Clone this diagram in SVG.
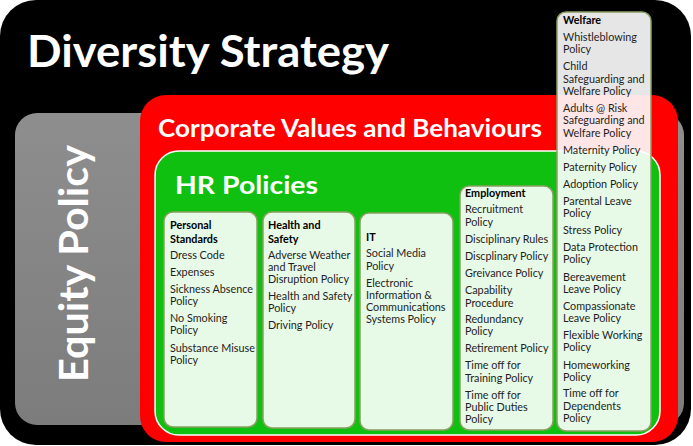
<svg xmlns="http://www.w3.org/2000/svg" width="693" height="446" viewBox="0 0 693 446">
<defs>
<style>
.big{font-family:Lato,"Open Sans","Liberation Sans",sans-serif;font-weight:bold;fill:#ffffff}
.t{font-family:Lato,"Open Sans","Liberation Sans",sans-serif;font-size:10.8px;fill:#1e1e1e}
.h{font-weight:bold;fill:#000}
.box{fill:#ffffff;fill-opacity:0.9;stroke:#8a9f62;stroke-width:1.5}
</style>
<linearGradient id="gGray" x1="0" y1="0" x2="0" y2="1">
<stop offset="0" stop-color="#8e8e8e"/><stop offset="1" stop-color="#7c7c7c"/>
</linearGradient>
</defs>
<rect width="693" height="446" fill="#ffffff"/>
<g id="diversity-strategy">
<rect x="0" y="0" width="691" height="445" rx="36" fill="#000"/>
<text class="big" x="27" y="67" font-size="44" textLength="362" lengthAdjust="spacingAndGlyphs">Diversity Strategy</text>
</g>
<g id="equity-policy">
<rect x="15" y="113" width="669" height="312" rx="22" fill="url(#gGray)"/>
<text class="big" transform="translate(88,382) rotate(-90)" font-size="40" textLength="237" lengthAdjust="spacingAndGlyphs">Equity Policy</text>
</g>
<g id="corporate-values">
<rect x="140" y="95" width="538" height="347" rx="26" fill="#ff0000"/>
<text class="big" x="158" y="137" font-size="24" textLength="384" lengthAdjust="spacingAndGlyphs">Corporate Values and Behaviours</text>
</g>
<g id="hr-policies">
<rect x="155" y="151" width="505" height="284" rx="24" fill="#10c010" stroke="#ffffff" stroke-width="1.5"/>
<text class="big" x="175" y="194" font-size="25" textLength="143" lengthAdjust="spacingAndGlyphs">HR Policies</text>
</g>
<g id="personal-standards">
<rect class="box" x="164" y="212" width="93" height="215" rx="9"/>
<text class="t" x="170"><tspan class="h" x="170" y="229">Personal</tspan><tspan class="h" x="170" y="243">Standards</tspan><tspan x="170" y="259">Dress Code</tspan><tspan x="170" y="276">Expenses</tspan><tspan x="170" y="293">Sickness Absence</tspan><tspan x="170" y="305">Policy</tspan><tspan x="170" y="322">No Smoking</tspan><tspan x="170" y="334">Policy</tspan><tspan x="170" y="352">Substance Misuse</tspan><tspan x="170" y="364">Policy</tspan></text>
</g>
<g id="health-and-safety">
<rect class="box" x="263" y="212" width="92" height="216" rx="9"/>
<text class="t"><tspan class="h" x="268" y="229">Health and</tspan><tspan class="h" x="268" y="243">Safety</tspan><tspan x="268" y="259">Adverse Weather</tspan><tspan x="268" y="271">and Travel</tspan><tspan x="268" y="283">Disruption Policy</tspan><tspan x="268" y="300">Health and Safety</tspan><tspan x="268" y="312">Policy</tspan><tspan x="268" y="329">Driving Policy</tspan></text>
</g>
<g id="it">
<rect class="box" x="360" y="213" width="93" height="217" rx="9"/>
<text class="t"><tspan class="h" x="366" y="241">IT</tspan><tspan x="366" y="257">Social Media</tspan><tspan x="366" y="270">Policy</tspan><tspan x="366" y="287">Electronic</tspan><tspan x="366" y="299">Information &amp;</tspan><tspan x="366" y="311">Communications</tspan><tspan x="366" y="323">Systems Policy</tspan></text>
</g>
<g id="employment">
<rect class="box" x="460" y="186" width="93" height="244" rx="9"/>
<text class="t"><tspan class="h" x="465" y="197">Employment</tspan><tspan x="465" y="213">Recruitment</tspan><tspan x="465" y="226">Policy</tspan><tspan x="465" y="243">Disciplinary Rules</tspan><tspan x="465" y="260">Discplinary Policy</tspan><tspan x="465" y="277">Greivance Policy</tspan><tspan x="465" y="294">Capability</tspan><tspan x="465" y="307">Procedure</tspan><tspan x="465" y="323">Redundancy</tspan><tspan x="465" y="335">Policy</tspan><tspan x="465" y="352">Retirement Policy</tspan><tspan x="465" y="369">Time off for</tspan><tspan x="465" y="382">Training Policy</tspan><tspan x="465" y="399">Time off for</tspan><tspan x="465" y="411">Public Duties</tspan><tspan x="465" y="423">Policy</tspan></text>
</g>
<g id="welfare">
<rect class="box" x="557" y="12" width="94" height="419" rx="9"/>
<text class="t"><tspan class="h" x="563" y="24">Welfare</tspan><tspan x="563" y="41">Whistleblowing</tspan><tspan x="563" y="53">Policy</tspan><tspan x="563" y="70">Child</tspan><tspan x="563" y="83">Safeguarding and</tspan><tspan x="563" y="95">Welfare Policy</tspan><tspan x="563" y="112">Adults @ Risk</tspan><tspan x="563" y="124">Safeguarding and</tspan><tspan x="563" y="137">Welfare Policy</tspan><tspan x="563" y="154">Maternity Policy</tspan><tspan x="563" y="171">Paternity Policy</tspan><tspan x="563" y="188">Adoption Policy</tspan><tspan x="563" y="205">Parental Leave</tspan><tspan x="563" y="217">Policy</tspan><tspan x="563" y="234">Stress Policy</tspan><tspan x="563" y="251">Data Protection</tspan><tspan x="563" y="263">Policy</tspan><tspan x="563" y="281">Bereavement</tspan><tspan x="563" y="293">Leave Policy</tspan><tspan x="563" y="310">Compassionate</tspan><tspan x="563" y="322">Leave Policy</tspan><tspan x="563" y="339">Flexible Working</tspan><tspan x="563" y="351">Policy</tspan><tspan x="563" y="369">Homeworking</tspan><tspan x="563" y="381">Policy</tspan><tspan x="563" y="397">Time off for</tspan><tspan x="563" y="410">Dependents</tspan><tspan x="563" y="422">Policy</tspan></text>
</g>
</svg>
